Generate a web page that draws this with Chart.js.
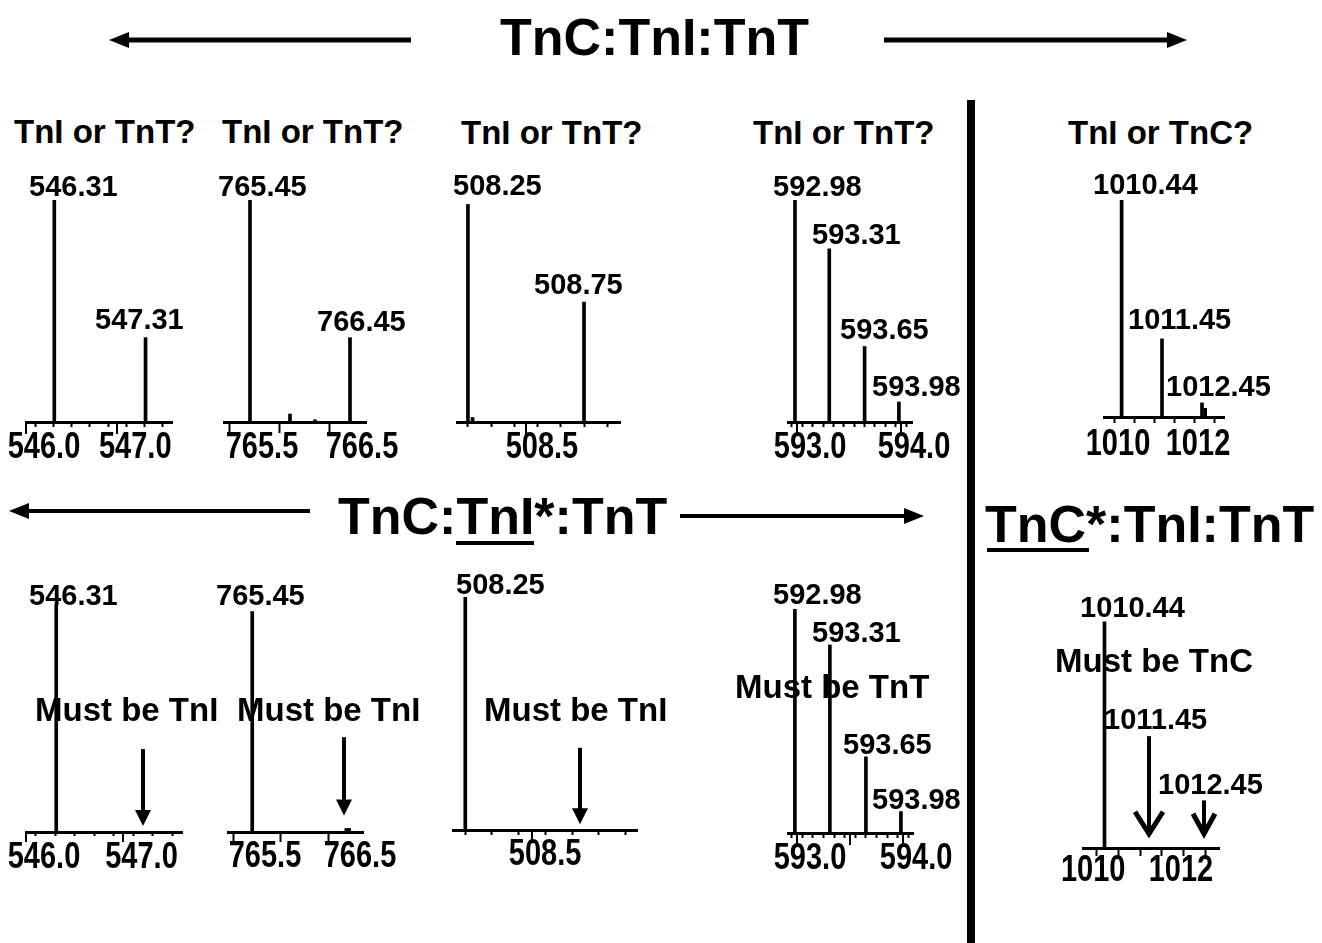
<!DOCTYPE html>
<html>
<head>
<meta charset="utf-8">
<script src="https://cdn.jsdelivr.net/npm/chart.js@4/dist/chart.umd.min.js"></script>
<style>
html,body{margin:0;padding:0;background:#fff;}
#root{position:relative;width:1322px;height:943px;overflow:hidden;background:#fff;}
.cv{position:absolute;}
.t{position:absolute;font-family:'Liberation Sans',Arial,Helvetica,sans-serif;font-weight:bold;color:#000;white-space:nowrap;line-height:1;}
</style>
</head>
<body>
<div id="root">
<svg width="1322" height="943" style="position:absolute;left:0;top:0" xmlns="http://www.w3.org/2000/svg">
  <line x1="126" y1="40" x2="411" y2="40" stroke="#000" stroke-width="5"/>
  <polygon points="109,40 129,32 129,48" fill="#000"/>
  <line x1="884" y1="40" x2="1170" y2="40" stroke="#000" stroke-width="5"/>
  <polygon points="1187,40 1167,32 1167,48" fill="#000"/>
  <line x1="26" y1="511" x2="310" y2="511" stroke="#000" stroke-width="4"/>
  <polygon points="9,511 29,503 29,519" fill="#000"/>
  <line x1="680" y1="516" x2="906" y2="516" stroke="#000" stroke-width="4"/>
  <polygon points="924,516 904,508 904,524" fill="#000"/>
  <rect x="967" y="100" width="8" height="843" fill="#000"/>
  <rect x="456" y="541" width="78" height="4" fill="#000"/>
  <rect x="987" y="548" width="102" height="4" fill="#000"/>
</svg>
</div>
<script>
// ---------------- DATA ----------------
// Top row: TnC:TnI:TnT
const a1Mz = [546.31, 547.31];
const a1Int = [100, 38];
const a1Ticks = [546.0, 546.2, 546.4, 546.6, 546.8, 547.0, 547.2, 547.4, 547.6];
const a1TickLabels = ['546.0', '547.0'];
const a1TickLabelAt = [546.0, 547.0];

const a2Mz = [765.45, 765.85, 766.1, 766.45];
const a2Int = [100, 3.6, 1, 38];
const a2Ticks = [765.5, 766.0, 766.5];
const a2TickLabels = ['765.5', '766.5'];
const a2TickLabelAt = [765.5, 766.5];

const a3Mz = [508.25, 508.27, 508.75];
const a3Int = [98, 2, 54];
const a3Ticks = [508.3, 508.4, 508.5, 508.6, 508.7, 508.8, 508.9];
const a3TickLabels = ['508.5'];
const a3TickLabelAt = [508.5];

const a4Mz = [592.98, 593.31, 593.65, 593.98];
const a4Int = [100, 78, 34, 9];
const a4Ticks = [593.0, 593.1, 593.2, 593.3, 593.4, 593.5, 593.6, 593.7, 593.8, 593.9, 594.0, 594.1];
const a4TickLabels = ['593.0', '594.0'];
const a4TickLabelAt = [593.0, 594.0];

const a5Mz = [1010.44, 1011.45, 1012.45, 1012.53];
const a5Int = [100, 36, 6.5, 4];
const a5Ticks = [1010.0, 1010.5, 1011.0, 1011.5, 1012.0, 1012.5, 1013.0];
const a5TickLabels = ['1010', '1012'];
const a5TickLabelAt = [1010.0, 1012.0];

// Bottom row: TnC:TnI*:TnT and TnC*:TnI:TnT
const b1Mz = [546.31];
const b1Int = [96];
const b1Ticks = [546.0, 546.2, 546.4, 546.6, 546.8, 547.0, 547.2, 547.4, 547.6];
const b1TickLabels = ['546.0', '547.0'];
const b1TickLabelAt = [546.0, 547.0];
const b1ArrowMz = [547.2];
const b1ArrowTop = [35];
const b1ArrowTip = [2.5];

const b2Mz = [765.45, 766.44, 766.47];
const b2Int = [93, 1.5, 1.5];
const b2Ticks = [765.5, 766.0, 766.5];
const b2TickLabels = ['765.5', '766.5'];
const b2TickLabelAt = [765.5, 766.5];
const b2ArrowMz = [766.42];
const b2ArrowTop = [40];
const b2ArrowTip = [7];

const b3Mz = [508.25];
const b3Int = [99];
const b3Ticks = [508.3, 508.4, 508.5, 508.6, 508.7, 508.8];
const b3TickLabels = ['508.5'];
const b3TickLabelAt = [508.5];
const b3ArrowMz = [508.68];
const b3ArrowTop = [35];
const b3ArrowTip = [2.5];

const b4Mz = [592.98, 593.31, 593.65, 593.98];
const b4Int = [94, 79, 32, 9];
const b4Ticks = [593.0, 593.1, 593.2, 593.3, 593.4, 593.5, 593.6, 593.7, 593.8, 593.9, 594.0];
const b4TickLabels = ['593.0', '594.0'];
const b4TickLabelAt = [593.0, 594.0];

const b5Mz = [1010.44];
const b5Int = [95];
const b5Ticks = [1010.0, 1010.5, 1011.0, 1011.5, 1012.0, 1012.5, 1013.0];
const b5TickLabels = ['1010', '1012'];
const b5TickLabelAt = [1010.0, 1012.0];
const b5ArrowMz = [1011.45, 1012.7];
const b5ArrowTop = [47, 20];
const b5ArrowTip = [6, 6];
const b5ExpectedLabels = ['1011.45', '1012.45'];

// ---------------- LAYOUT ----------------
const root = document.getElementById('root');

const tickFont = { family: '"Liberation Sans", Arial, sans-serif', size: 29, weight: 'bold', lineHeight: 1 };
const tickStretch = 1.25;

Chart.defaults.font.family = '"Liberation Sans", Arial, sans-serif';

function addText(txt, left, baseline, size) {
  const d = document.createElement('div');
  d.className = 't';
  d.textContent = txt;
  d.style.fontSize = size + 'px';
  d.style.left = left + 'px';
  d.style.top = (baseline - 0.847 * size) + 'px';
  root.appendChild(d);
}

const marksPlugin = {
  id: 'marks',
  afterDraw(chart, args, o) {
    const ctx = chart.ctx, xs = chart.scales.x, ys = chart.scales.y;
    ctx.save();
    ctx.strokeStyle = '#000';
    ctx.fillStyle = '#000';
    (o.longTicks || []).forEach(v => {
      const px = Math.round(xs.getPixelForValue(v));
      ctx.lineWidth = 2;
      ctx.beginPath();
      ctx.moveTo(px, xs.top);
      ctx.lineTo(px, xs.top + o.longLen);
      ctx.stroke();
    });
    const ar = o.arrows || { mz: [], top: [], tip: [] };
    ar.mz.forEach((m, i) => {
      const px = Math.round(xs.getPixelForValue(m));
      const y0 = ys.getPixelForValue(ar.top[i]);
      const y1 = ys.getPixelForValue(ar.tip[i]);
      if (o.arrowStyle === 'v') {
        const hw = o.headW[i], hl = o.headL[i];
        ctx.lineWidth = 4;
        ctx.beginPath(); ctx.moveTo(px, y0); ctx.lineTo(px, y1 - 3); ctx.stroke();
        ctx.lineWidth = 5;
        ctx.lineJoin = 'miter';
        ctx.beginPath();
        ctx.moveTo(px - hw, y1 - hl);
        ctx.lineTo(px, y1);
        ctx.lineTo(px + hw, y1 - hl);
        ctx.stroke();
      } else {
        const hw = 8, hl = 16;
        ctx.lineWidth = 4;
        ctx.beginPath(); ctx.moveTo(px, y0); ctx.lineTo(px, y1 - hl + 1); ctx.stroke();
        ctx.beginPath();
        ctx.moveTo(px - hw, y1 - hl);
        ctx.lineTo(px + hw, y1 - hl);
        ctx.lineTo(px, y1);
        ctx.closePath();
        ctx.fill();
      }
    });
    ctx.restore();
  }
};

function makePanel(p) {
  const padL = 34, padR = 48, padT = 6, axisH = 56;
  const w = p.x1 - p.x0;
  const h = p.yAxis - p.yTop;
  const wrap = document.createElement('div');
  wrap.className = 'cv';
  wrap.style.left = (p.x0 - padL) + 'px';
  wrap.style.top = (p.yTop - padT) + 'px';
  wrap.style.width = (w + padL + padR) + 'px';
  wrap.style.height = (h + padT + axisH) + 'px';
  const c = document.createElement('canvas');
  wrap.appendChild(c);
  root.appendChild(wrap);
  const tickPad = p.labelY - p.tickLen - tickFont.size / 2;
  new Chart(c, {
    type: 'bar',
    data: {
      datasets: [{
        data: p.mz.map((m, i) => ({ x: m, y: p.inten[i] })),
        backgroundColor: '#000',
        borderWidth: 0,
        barThickness: 3
      }]
    },
    options: {
      responsive: true,
      maintainAspectRatio: false,
      animation: false,
      devicePixelRatio: 1,
      layout: { padding: { left: padL, right: padR, top: padT, bottom: 0 } },
      plugins: {
        legend: { display: false },
        tooltip: { enabled: false },
        marks: {
          longTicks: p.longTicks || [], longLen: p.longLen || 0,
          arrows: p.arrows, arrowStyle: p.arrowStyle, headW: p.headW, headL: p.headL
        }
      },
      scales: {
        x: {
          type: 'linear',
          min: p.min, max: p.max,
          offset: false,
          afterBuildTicks: s => { s.ticks = p.ticks.map(v => ({ value: v })); },
          afterFit: s => {
            s.height = axisH; s.paddingLeft = 0; s.paddingRight = 0;
            if (!s._stretchWrapped) {
              s._stretchWrapped = true;
              const orig = s.drawLabels;
              s.drawLabels = function (area) {
                const ctx = this.ctx;
                const cy = this.top + p.labelY;
                ctx.save();
                ctx.translate(0, cy);
                ctx.scale(1, tickStretch);
                ctx.translate(0, -cy);
                orig.call(this, area);
                ctx.restore();
              };
            }
          },
          grid: {
            display: true, drawOnChartArea: false, drawTicks: true,
            tickLength: p.tickLen, tickWidth: 2, tickColor: '#000', color: '#000'
          },
          border: { display: true, color: '#000', width: 3 },
          ticks: {
            autoSkip: false, maxRotation: 0, minRotation: 0,
            padding: tickPad, labelOffset: p.labelOffset,
            color: '#000', font: tickFont,
            callback: v => {
              const i = p.tickLabelAt.findIndex(l => Math.abs(l - v) < 1e-6);
              return i >= 0 ? p.tickLabels[i] : '';
            }
          }
        },
        y: { display: false, min: 0, max: 100 }
      }
    },
    plugins: [marksPlugin]
  });
}

const panels = [
  { mz: a1Mz, inten: a1Int, ticks: a1Ticks, tickLabels: a1TickLabels, tickLabelAt: a1TickLabelAt,
    min: 546.0, max: 547.6, x0: 26, x1: 172, yTop: 200, yAxis: 422,
    tickLen: 5, longTicks: [546.0, 547.0], longLen: 12, labelOffset: 18, labelY: 26 },
  { mz: a2Mz, inten: a2Int, ticks: a2Ticks, tickLabels: a2TickLabels, tickLabelAt: a2TickLabelAt,
    min: 765.19, max: 766.61, x0: 224, x1: 366, yTop: 200, yAxis: 422,
    tickLen: 11, labelOffset: 7, labelY: 26 },
  { mz: a3Mz, inten: a3Int, ticks: a3Ticks, tickLabels: a3TickLabels, tickLabelAt: a3TickLabelAt,
    min: 508.203, max: 508.905, x0: 457, x1: 620, yTop: 200, yAxis: 422,
    tickLen: 5, longTicks: [508.5], longLen: 12, labelOffset: 16, labelY: 26 },
  { mz: a4Mz, inten: a4Int, ticks: a4Ticks, tickLabels: a4TickLabels, tickLabelAt: a4TickLabelAt,
    min: 592.913, max: 594.106, x0: 788, x1: 912, yTop: 200, yAxis: 422,
    tickLen: 5, longTicks: [593.0, 594.0], longLen: 12, labelOffset: 13, labelY: 26 },
  { mz: a5Mz, inten: a5Int, ticks: a5Ticks, tickLabels: a5TickLabels, tickLabelAt: a5TickLabelAt,
    min: 1010.0, max: 1013.0, x0: 1104, x1: 1224, yTop: 200, yAxis: 417,
    tickLen: 6, labelOffset: 14, labelY: 28 },
  { mz: b1Mz, inten: b1Int, ticks: b1Ticks, tickLabels: b1TickLabels, tickLabelAt: b1TickLabelAt,
    min: 546.0, max: 547.6, x0: 26, x1: 182, yTop: 595, yAxis: 832,
    tickLen: 4, longTicks: [546.0, 547.0], longLen: 10, labelOffset: 18, labelY: 26,
    arrows: { mz: b1ArrowMz, top: b1ArrowTop, tip: b1ArrowTip } },
  { mz: b2Mz, inten: b2Int, ticks: b2Ticks, tickLabels: b2TickLabels, tickLabelAt: b2TickLabelAt,
    min: 765.195, max: 766.616, x0: 228, x1: 363, yTop: 595, yAxis: 832,
    tickLen: 10, labelOffset: 8, labelY: 25,
    arrows: { mz: b2ArrowMz, top: b2ArrowTop, tip: b2ArrowTip } },
  { mz: b3Mz, inten: b3Int, ticks: b3Ticks, tickLabels: b3TickLabels, tickLabelAt: b3TickLabelAt,
    min: 508.204, max: 508.893, x0: 453, x1: 637, yTop: 595, yAxis: 830,
    tickLen: 5, longTicks: [508.5], longLen: 12, labelOffset: 13, labelY: 25,
    arrows: { mz: b3ArrowMz, top: b3ArrowTop, tip: b3ArrowTip } },
  { mz: b4Mz, inten: b4Int, ticks: b4Ticks, tickLabels: b4TickLabels, tickLabelAt: b4TickLabelAt,
    min: 592.915, max: 594.094, x0: 788, x1: 913, yTop: 595, yAxis: 833,
    tickLen: 5, longTicks: [593.0, 593.5, 594.0], longLen: 12, labelOffset: 13, labelY: 26 },
  { mz: b5Mz, inten: b5Int, ticks: b5Ticks, tickLabels: b5TickLabels, tickLabelAt: b5TickLabelAt,
    min: 1009.95, max: 1013.05, x0: 1083, x1: 1219, yTop: 610, yAxis: 848,
    tickLen: 8, labelOffset: 8, labelY: 23,
    arrows: { mz: b5ArrowMz, top: b5ArrowTop, tip: b5ArrowTip }, arrowStyle: 'v', headW: [14, 11], headL: [22, 20] }
];
panels.forEach(makePanel);

// ---------------- TEXT ----------------
addText('TnC:TnI:TnT', 500, 55, 52);
addText('TnC:TnI*:TnT', 338, 534, 52);
addText('TnC*:TnI:TnT', 985, 542, 52);

addText('TnI or TnT?', 14, 143, 33);
addText('TnI or TnT?', 222, 143, 33);
addText('TnI or TnT?', 461, 144, 33);
addText('TnI or TnT?', 753, 144, 33);
addText('TnI or TnC?', 1068, 144, 33);

// top-row peak labels
addText(a1Mz[0].toFixed(2), 29, 197, 29);
addText(a1Mz[1].toFixed(2), 95, 330, 29);
addText(a2Mz[0].toFixed(2), 218, 197, 29);
addText(a2Mz[3].toFixed(2), 317, 332, 29);
addText(a3Mz[0].toFixed(2), 453, 196, 29);
addText(a3Mz[2].toFixed(2), 534, 295, 29);
addText(a4Mz[0].toFixed(2), 773, 197, 29);
addText(a4Mz[1].toFixed(2), 812, 245, 29);
addText(a4Mz[2].toFixed(2), 840, 340, 29);
addText(a4Mz[3].toFixed(2), 872, 397, 29);
addText(a5Mz[0].toFixed(2), 1093, 195, 29);
addText(a5Mz[1].toFixed(2), 1128, 330, 29);
addText(a5Mz[2].toFixed(2), 1166, 397, 29);

// bottom-row peak labels
addText(b1Mz[0].toFixed(2), 29, 606, 29);
addText(b2Mz[0].toFixed(2), 216, 606, 29);
addText(b3Mz[0].toFixed(2), 456, 595, 29);
addText(b4Mz[0].toFixed(2), 773, 605, 29);
addText(b4Mz[1].toFixed(2), 812, 643, 29);
addText(b4Mz[2].toFixed(2), 843, 755, 29);
addText(b4Mz[3].toFixed(2), 872, 810, 29);
addText(b5Mz[0].toFixed(2), 1080, 618, 29);
addText(b5ExpectedLabels[0], 1104, 730, 29);
addText(b5ExpectedLabels[1], 1158, 795, 29);

addText('Must be TnI', 35, 721, 33);
addText('Must be TnI', 237, 721, 33);
addText('Must be TnI', 484, 721, 33);
addText('Must be TnT', 735, 698, 33);
addText('Must be TnC', 1055, 672, 33);
</script>
</body>
</html>
